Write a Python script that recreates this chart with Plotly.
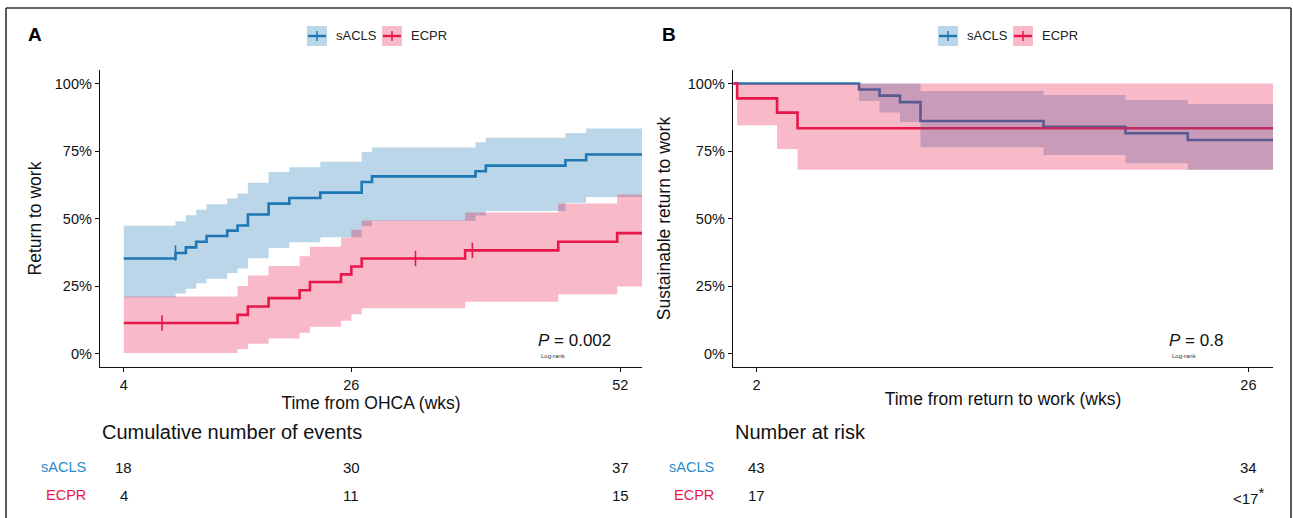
import plotly.graph_objects as go

W, H = 1293, 518

# ---------------- Panel A data (weeks from OHCA, % returned to work) ----------------
a_sacls_t = [4, 9, 10, 11, 12, 14, 15, 16, 18, 20, 23, 27, 28, 38, 39, 46.7, 48.7, 54.1]
a_sacls_s = [35.2, 37.2, 39.3, 41.4, 43.5, 45.5, 47.4, 51.5, 55.5, 57.6, 59.6, 63.5, 65.6, 67.5, 69.6, 71.6, 73.7]
a_sacls_hi = [47.3, 49.0, 51.2, 53.2, 55.3, 57.4, 59.3, 63.2, 67.2, 69.0, 71.0, 74.6, 76.3, 78.2, 79.9, 81.7, 83.3]
a_sacls_lo = [20.7, 22.2, 24.0, 26.0, 27.7, 29.8, 31.5, 35.3, 39.1, 41.2, 43.1, 47.1, 49.1, 51.1, 52.8, 55.8, 58.0]
a_sacls_cens_t = [9]

a_ecpr_t = [4, 15, 16, 18, 21, 22, 25, 26, 27, 37, 46, 51.7, 54.1]
a_ecpr_s = [11.3, 14.3, 17.4, 20.5, 23.4, 26.5, 29.3, 32.2, 35.2, 38.2, 41.4, 44.6]
a_ecpr_hi = [21.1, 25.0, 28.9, 32.4, 36.0, 39.5, 43.0, 45.8, 49.3, 52.2, 55.6, 58.9]
a_ecpr_lo = [0.2, 1.7, 3.6, 5.6, 7.7, 9.9, 12.1, 14.5, 16.8, 19.2, 21.9, 24.8]
a_ecpr_cens_t = [7.7, 32.2, 37.7]

a_table_t = [4, 26, 52]
a_table_sacls = ["18", "30", "37"]
a_table_ecpr = ["4", "11", "15"]

# ---------------- Panel B data (weeks from return to work, % sustained) ----------------
b_sacls_t = [0.87, 7, 8, 9, 10, 16, 20, 23.04, 27.2]
b_sacls_s = [100, 97.8, 95.5, 93.1, 86.1, 84.0, 81.6, 79.1]
b_sacls_hi = [100, 100, 100, 100, 97.2, 95.7, 93.9, 92.4]
b_sacls_lo = [100, 93.5, 89.3, 85.7, 76.4, 73.5, 70.5, 68.1]

b_ecpr_t = [0.87, 1.05, 3, 4, 27.2]
b_ecpr_s = [100, 94.5, 89.2, 83.4]
b_ecpr_hi = [100, 100, 100, 100]
b_ecpr_lo = [100, 84.5, 75.7, 68.1]

b_table_t = [2, 26]
b_table_sacls = ["43", "34"]
b_table_ecpr = ["17", "&lt;17<sup><span style='font-size:15px'>*</span></sup>"]

y_ticks = [0, 25, 50, 75, 100]
y_ticklabels = ["0%", "25%", "50%", "75%", "100%"]

groups = ["sACLS", "ECPR"]
line_col = {"sACLS": "#1f78b4", "ECPR": "#e8174a"}
fill_col = {"sACLS": "rgba(31,120,180,0.3)", "ECPR": "rgba(232,23,74,0.3)"}
label_col = {"sACLS": "#2b8acc", "ECPR": "#e8174a"}

FONT = "Liberation Sans, Arial, sans-serif"

def stepxy(t, v):
    return t, v + [v[-1]]

fig = go.Figure()

def add_panel(xa, ya, curves):
    for name, t, s, hi, lo, cens in curves:
        x, y = stepxy(t, s)
        fig.add_trace(go.Scatter(x=x, y=y, mode="lines", line=dict(color=line_col[name], width=2.6, shape="hv"),
                                 xaxis=xa, yaxis=ya, showlegend=False, hoverinfo="skip"))
    for name, t, s, hi, lo, cens in curves:
        x, ylo = stepxy(t, lo)
        _, yhi = stepxy(t, hi)
        fig.add_trace(go.Scatter(x=x, y=ylo, mode="lines", line=dict(width=0, shape="hv"),
                                 xaxis=xa, yaxis=ya, showlegend=False, hoverinfo="skip"))
        fig.add_trace(go.Scatter(x=x, y=yhi, mode="lines", line=dict(width=0, shape="hv"),
                                 fill="tonexty", fillcolor=fill_col[name],
                                 xaxis=xa, yaxis=ya, showlegend=False, hoverinfo="skip"))
    for name, t, s, hi, lo, cens in curves:
        if not cens:
            continue
        cy = []
        for c in cens:
            idx = max(i for i, tt in enumerate(t[:-1]) if tt <= c)
            cy.append(s[idx])
        fig.add_trace(go.Scatter(x=cens, y=cy, mode="markers",
                                 marker=dict(symbol="line-ns", size=11, line=dict(color=line_col[name], width=1.6)),
                                 xaxis=xa, yaxis=ya, showlegend=False, hoverinfo="skip"))

add_panel("x", "y", [
    ("sACLS", a_sacls_t, a_sacls_s, a_sacls_hi, a_sacls_lo, a_sacls_cens_t),
    ("ECPR", a_ecpr_t, a_ecpr_s, a_ecpr_hi, a_ecpr_lo, a_ecpr_cens_t),
])
add_panel("x2", "y2", [
    ("sACLS", b_sacls_t, b_sacls_s, b_sacls_hi, b_sacls_lo, []),
    ("ECPR", b_ecpr_t, b_ecpr_s, b_ecpr_hi, b_ecpr_lo, []),
])

def px(x):
    return x / W

def py(y):
    return 1 - y / H

ydom = [py(367), py(70)]
axis_common = dict(showline=True, linecolor="#111", linewidth=1.4, ticks="outside", ticklen=4,
                   tickcolor="#111", tickwidth=1.2, showgrid=False, zeroline=False, automargin=False,
                   tickfont=dict(family=FONT, size=14.5, color="#111"))

fig.update_layout(
    width=W, height=H, autosize=False,
    margin=dict(l=0, r=0, t=0, b=0, pad=0),
    paper_bgcolor="white", plot_bgcolor="white",
    font=dict(family=FONT, color="#111"),
    xaxis=dict(domain=[px(100), px(642)], range=[1.7, 54.1], tickvals=a_table_t, anchor="y",
               title=dict(text="Time from OHCA (wks)", font=dict(size=17.5, family=FONT), standoff=0), **axis_common),
    yaxis=dict(domain=ydom, range=[-5, 105], tickvals=y_ticks, ticktext=y_ticklabels, anchor="x",
               title=dict(text="Return to work", font=dict(size=17.5, family=FONT), standoff=8), **axis_common),
    xaxis2=dict(domain=[px(733), px(1273)], range=[0.85, 27.2], tickvals=b_table_t, anchor="y2",
                title=dict(text="Time from return to work (wks)", font=dict(size=17.5, family=FONT), standoff=1), **axis_common),
    yaxis2=dict(domain=ydom, range=[-5, 105], tickvals=y_ticks, ticktext=y_ticklabels, anchor="x2",
                title=dict(text="Sustainable return to work", font=dict(size=17.5, family=FONT), standoff=12), **axis_common),
)

shapes = []
annotations = []

# outer frame (top, left, right)
for x0, y0, x1, y1 in [(6, 8, 1291, 8), (6, 8, 6, 518), (1291, 8, 1291, 518)]:
    shapes.append(dict(type="line", xref="paper", yref="paper", x0=px(x0), y0=py(y0), x1=px(x1), y1=py(y1),
                       line=dict(color="#333", width=1.6)))

# panel letters
for letter, x in [("A", 35), ("B", 669)]:
    annotations.append(dict(text="<b>%s</b>" % letter, xref="paper", yref="paper", x=px(x), y=py(35),
                            showarrow=False, font=dict(size=19, family=FONT, color="#000"),
                            xanchor="center", yanchor="middle"))

# legends
def add_legend(x_start):
    x = x_start
    for name in groups:
        bx0, bx1, by0, by1 = x, x + 20, 26, 46
        shapes.append(dict(type="rect", xref="paper", yref="paper", x0=px(bx0), x1=px(bx1), y0=py(by1), y1=py(by0),
                           fillcolor=fill_col[name], line=dict(width=0)))
        shapes.append(dict(type="line", xref="paper", yref="paper", x0=px(bx0 + 1), x1=px(bx1 - 1), y0=py(36), y1=py(36),
                           line=dict(color=line_col[name], width=2.4)))
        shapes.append(dict(type="line", xref="paper", yref="paper", x0=px(bx0 + 10), x1=px(bx0 + 10), y0=py(31), y1=py(41),
                           line=dict(color=line_col[name], width=1.5)))
        annotations.append(dict(text=name, xref="paper", yref="paper", x=px(bx1 + 7), y=py(36), showarrow=False,
                                xanchor="left", yanchor="middle", font=dict(size=13, family=FONT, color="#222")))
        x = bx1 + 55

add_legend(307)
add_legend(938)

# P values
def add_p(xl, ptxt):
    annotations.append(dict(text="<i>P</i> = " + ptxt, xref="paper", yref="paper", x=px(xl), y=py(340),
                            showarrow=False, xanchor="left", yanchor="middle",
                            font=dict(size=17, family=FONT, color="#111")))
    annotations.append(dict(text="Log-rank", xref="paper", yref="paper", x=px(xl + 3), y=py(356),
                            showarrow=False, xanchor="left", yanchor="middle",
                            font=dict(size=6, family=FONT, color="#333")))

add_p(536, "0.002")
add_p(1167, "0.8")

# risk tables
def add_table(title, title_x, xa, times, sacls_vals, ecpr_vals, label_right):
    annotations.append(dict(text=title, xref="paper", yref="paper", x=px(title_x), y=py(432), showarrow=False,
                            xanchor="left", yanchor="middle", font=dict(size=20, family=FONT, color="#111")))
    for name, vals, yy in [("sACLS", sacls_vals, 467), ("ECPR", ecpr_vals, 495)]:
        annotations.append(dict(text=name, xref="paper", yref="paper", x=px(label_right), y=py(yy), showarrow=False,
                                xanchor="right", yanchor="middle",
                                font=dict(size=14.5, family=FONT, color=label_col[name])))
        for t, v in zip(times, vals):
            annotations.append(dict(text=v, xref=xa, yref="paper", x=t, y=py(yy), showarrow=False,
                                    xanchor="center", yanchor="middle",
                                    font=dict(size=15, family=FONT, color="#111")))

add_table("Cumulative number of events", 100, "x", a_table_t, a_table_sacls, a_table_ecpr, 88)
add_table("Number at risk", 733, "x2", b_table_t, b_table_sacls, b_table_ecpr, 716)

fig.update_layout(shapes=shapes, annotations=annotations)
fig.write_html("out.html", config={"displayModeBar": False},
               post_script="document.body.style.margin='0';document.body.style.overflow='hidden';")
